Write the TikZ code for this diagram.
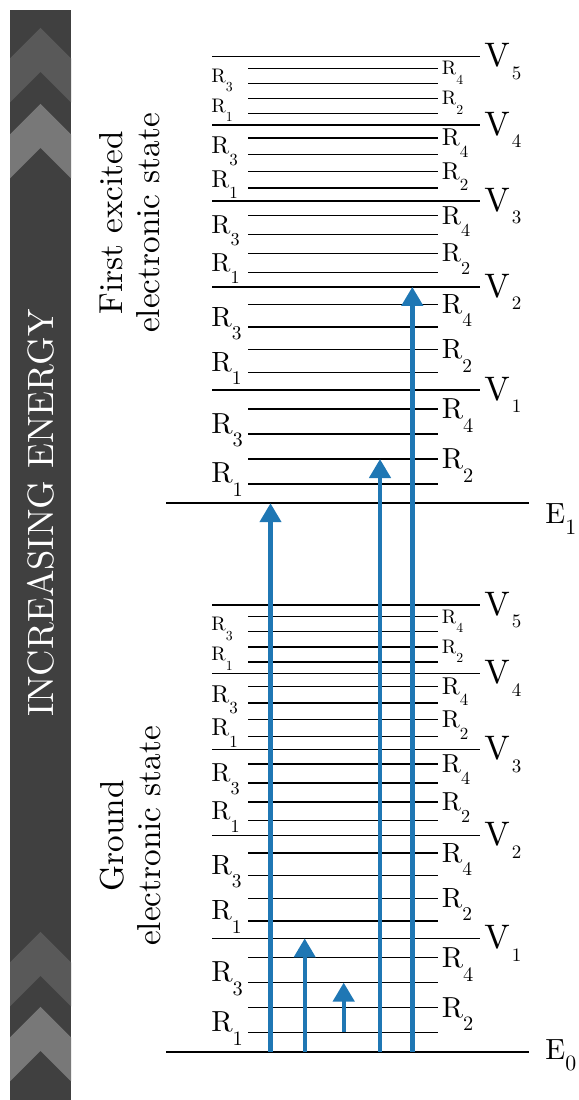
\documentclass[tikz,border=0pt]{standalone}
\usepackage{tikz}
\usetikzlibrary{arrows.meta}
% one design size at every size, as the plot was set
\DeclareFontFamily{TU}{lmten}{}
\DeclareFontShape{TU}{lmten}{m}{n}{<->\UnicodeFontFile{lmroman10-regular}{\UnicodeFontTeXLigatures}}{}
\renewcommand\rmdefault{lmten}
\definecolor{EBand}{HTML}{404040}
\definecolor{EChevA}{HTML}{595959}
\definecolor{EChevB}{HTML}{787878}
\definecolor{EBlue}{HTML}{1F77B4}

\tikzset{
  elvl/.style={line width=1pt},
  vlvl/.style={line width=0.7pt},
  rlvl/.style={line width=0.7pt},
  lbl/.style={anchor=west, inner sep=0pt},
  lbl l/.style={anchor=south west, inner sep=0pt},
  lbl r/.style={anchor=west, inner sep=0pt},
  statetxt/.style={rotate=90, align=center, font=\fontsize{16.6}{18.5}\selectfont},
  excite/.style={EBlue, line width=2.2pt, -{Triangle[width=10.5pt,length=9.5pt]}}
}
\newcommand\chev[2]{\fill[#2] (10,#1-30.5) -- (40.5,#1) -- (71,#1-30.5) -- (71,#1-74.5) -- (40.5,#1-44) -- (10,#1-74.5) -- cycle;}
\newcommand\rlab[3]{\fontsize{#1}{#1}\selectfont R\smash{\fontsize{#2}{#2}\selectfont\raisebox{-.68em}{#3}}}
\newcommand\vlab[1]{\fontsize{17}{17}\selectfont V\kern1pt\smash{\fontsize{9.5}{9.5}\selectfont\raisebox{-.66em}{#1}}}
\newcommand\elab[1]{\fontsize{14.6}{14.6}\selectfont E\smash{\fontsize{10.9}{10.9}\selectfont\raisebox{-.5em}{#1}}}

\begin{document}
\begin{tikzpicture}[x=0.5pt, y=0.5pt]
\useasboundingbox (0,0) rectangle (579,1100);

% energy band
\fill[EBand] (10,0) rectangle (71,1090);
\chev{1072}{EChevA}
\chev{996}{EChevB}
\chev{168}{EChevA}
\chev{93}{EChevB}
\node[rotate=90, text=white, font=\fontsize{18.3}{20}\selectfont] (energy) at (40.5,587) {INCREASING ENERGY};

% ground (g) and first excited (x) states
\foreach \st/\base in {g/48.3, x/596.8}{
  \draw[elvl] (166,\base) coordinate (\st-E) -- (529,\base);
  \foreach \n/\lo/\hi/\fs/\ss in {1/0/113.3/14.5/10.2, 2/113.3/216.3/13.9/9.7,
      3/216.3/302.3/13/9.1, 4/302.3/378.3/12.2/8.5, 5/378.3/446.5/9.8/6.9}{
    \draw[vlvl] (212,\base+\hi) coordinate (\st-V\n) -- (480,\base+\hi);
    \node[lbl] (\st-vl\n) at (484,\base+\hi+1) {\vlab{\n}};
    \foreach \j/\f/\lx/\side in {1/.17/211/l, 2/.39/441.5/r, 3/.61/211/l, 4/.83/441.5/r}{
      \pgfmathsetmacro\yy{\base+\lo+\f*(\hi-\lo)}
      \draw[rlvl] (248,\yy) coordinate (\st-\n-\j) -- (438,\yy);
      \node[lbl \side] (\st-r\n-\j) at (\lx,\yy) {\rlab{\fs}{\ss}{\j}};
    }
  }
}
\node[lbl] (g-el) at (545,48.3+2) {\elab{0}};
\node[lbl] (x-el) at (545,596.8-10) {\elab{1}};

\node[statetxt] (x-txt) at (130,877) {First excited\\electronic state};
\node[statetxt] (g-txt) at (130,264) {Ground\\electronic state};

% transitions
\draw[excite] (270.5,0 |- g-E) -- (270.5,0 |- x-E);
\draw[excite] (304.7,0 |- g-E) -- (304.7,0 |- g-V1);
\draw[excite] (343.7,0 |- g-1-1) -- (343.7,0 |- g-1-3);
\draw[excite] (380,0 |- g-E) -- (380,0 |- x-1-2);
\draw[excite] (412.3,0 |- g-E) -- (412.3,0 |- x-V2);
\end{tikzpicture}
\end{document}
